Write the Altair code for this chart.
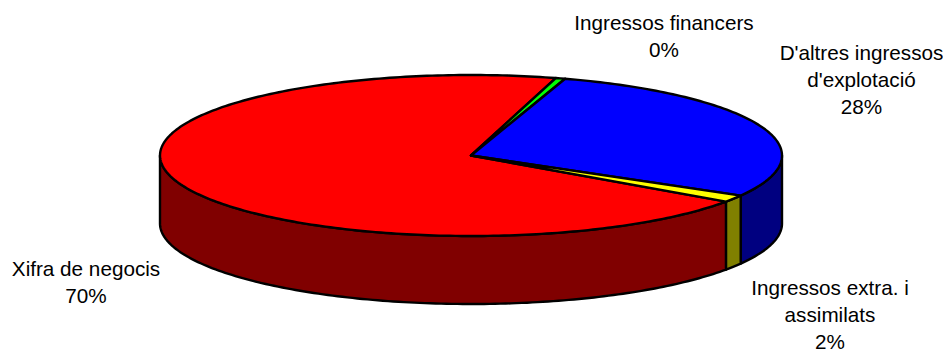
import math
import altair as alt
import pandas as pd

categories = ["Xifra de negocis", "Ingressos financers", "D'altres ingressos d'explotació", "Ingressos extra. i assimilats"]
values = [69.7, 0.5, 28.4, 1.4]
top_colors = ["#ff0000", "#00ff00", "#0000ff", "#ffff00"]
side_colors = ["#800000", "#008000", "#000080", "#808000"]
start_angle = 124.9  # degrees clockwise from the top, where the first slice begins

label_lines = [["Xifra de negocis", "70%"], ["Ingressos financers", "0%"],
               ["D'altres ingressos", "d'explotació", "28%"], ["Ingressos extra. i", "assimilats", "2%"]]
label_x = [86, 664, 861.5, 830]
label_y = [270, 24, 54, 289]

CX, CY, RX, RY, DEPTH = 471.0, 155.5, 311.0, 80.5, 68.0
W, H = 935, 344


def pt(a, drop=0.0):
    r = math.radians(a)
    return CX + RX * math.sin(r), CY - RY * math.cos(r) + drop


def arc(a0, a1):
    n = max(2, int(abs(a1 - a0)) + 2)
    return [a0 + (a1 - a0) * i / (n - 1) for i in range(n)]


spans = []
a = start_angle
for v in values:
    spans.append((a, a + v * 3.6))
    a += v * 3.6


def poly(pts, color, fill=True):
    df = pd.DataFrame({"x": [p[0] for p in pts], "y": [p[1] for p in pts], "o": range(len(pts))})
    return alt.Chart(df).mark_line(
        fill=color, stroke="black", strokeWidth=2.4, interpolate="linear-closed", strokeJoin="round"
    ).encode(
        x=alt.X("x:Q", scale=alt.Scale(domain=[8, 8 + W]), axis=None),
        y=alt.Y("y:Q", scale=alt.Scale(domain=[8 + H, 8]), axis=None),
        order="o:Q",
    )


layers = []
# front wall: visible between 90 and 270 degrees of the ellipse
for (a0, a1), col in zip(spans, side_colors):
    for shift in (0, 360, -360):
        lo, hi = max(a0 + shift, 90), min(a1 + shift, 270)
        if hi > lo:
            ang = arc(lo, hi)
            pts = [pt(t) for t in ang] + [pt(t, DEPTH) for t in reversed(ang)]
            layers.append(poly(pts, col))
# top face
for (a0, a1), col in zip(spans, top_colors):
    pts = [(CX, CY)] + [pt(t) for t in arc(a0, a1)]
    layers.append(poly(pts, col))

rows = []
for cat, lines, lx, ly in zip(categories, label_lines, label_x, label_y):
    for i, line in enumerate(lines):
        rows.append({"cat": cat, "line": line, "x": lx, "y": ly + i * 27})
text = alt.Chart(pd.DataFrame(rows)).mark_text(
    font="Liberation Sans", fontSize=20.7, color="black", align="center", baseline="middle"
).encode(
    x=alt.X("x:Q", scale=alt.Scale(domain=[8, 8 + W]), axis=None),
    y=alt.Y("y:Q", scale=alt.Scale(domain=[8 + H, 8]), axis=None),
    text="line:N",
)
layers.append(text)

chart = alt.layer(*layers).properties(
    width=W, height=H, padding=0, background="white",
    autosize=alt.AutoSizeParams(type="none"),
).configure_view(stroke=None)
chart.save("out.html", embed_options={"renderer": "svg", "actions": False})
